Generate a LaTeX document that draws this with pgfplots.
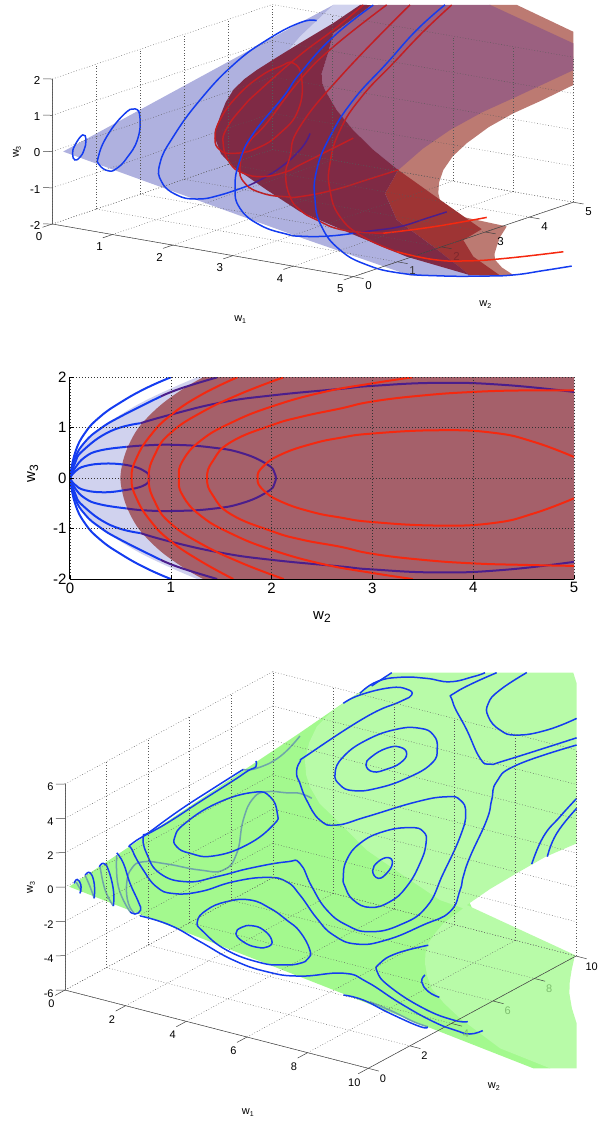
\documentclass[border=0pt]{standalone}
\usepackage{fontspec}
\setmainfont{Liberation Sans}
\usepackage{pgfplots}
\pgfplotsset{compat=1.18}
\definecolor{bluelt}{RGB}{208,210,238}
\definecolor{bluedk}{RGB}{175,177,223}
\definecolor{maroon}{RGB}{127,42,69}
\definecolor{mauve}{RGB}{155,96,128}
\definecolor{salmon}{RGB}{188,122,114}
\definecolor{brick}{RGB}{158,52,52}
\definecolor{midred}{RGB}{165,96,106}
\definecolor{wblue}{RGB}{20,60,240}
\definecolor{wpurple}{RGB}{75,30,140}
\definecolor{wred}{RGB}{245,40,15}
\definecolor{wreddk}{RGB}{195,30,35}
\definecolor{greendk}{RGB}{163,249,142}
\definecolor{greenlt}{RGB}{184,251,168}
\definecolor{wteal}{RGB}{110,165,170}
\definecolor{dimgreen}{RGB}{125,190,110}
\definecolor{dimred}{RGB}{125,40,45}
\pgfplotsset{
  base/.style={clip=false, axis on top, no markers, grid=major,
    grid style={dash pattern=on 0.8pt off 2pt, black!65, line width=0.4pt},
    axis line style={draw=none},
    tick style={draw=none}, tick align=outside,
    major tick length=9pt},
  patch/.style={fill=#1, draw=none, forget plot},
  crv/.style={draw=#1, line width=1.5pt, smooth, tension=0.8, forget plot},
  crvc/.style={draw=#1, line width=1.5pt, smooth cycle, tension=0.8, forget plot},
}
\begin{document}
\begin{tikzpicture}
\path[use as bounding box] (0,0) rectangle (600pt,-1122pt);

% top: both sheets
\begin{axis}[base, at={(52.3pt,-151.5pt)}, anchor=origin,
  x={(60.2pt,-10.54pt)}, y={(44pt,14.9pt)}, z={(0pt,36.25pt)},
  xmin=0, xmax=5, ymin=0, ymax=5, zmin=-2, zmax=2,
  xtick={0,...,5}, ytick={0,...,5}, ztick={-2,...,2},
  xticklabels={0,1,2,3,4,5},
  yticklabels={0,\textcolor{black!80}{1},\textcolor{dimred}{2},3,4,5},
  zticklabels={-2,-1,0,1,2},
  tick pos=left,
  tick label style={font=\fontsize{11.5}{12}\selectfont},
  xticklabel style={xshift=1pt, yshift=-1.5pt},
  zticklabel style={yshift=2pt},
  xlabel={w\raisebox{-2pt}{\scriptsize 1}}, ylabel={w\raisebox{-2pt}{\scriptsize 2}}, zlabel={w\raisebox{-2pt}{\scriptsize 3}},
  xlabel style={at={(axis cs:5.16,-2.79,-2)}, anchor=center, font=\fontsize{11}{11}\selectfont},
  ylabel style={at={(axis cs:7.36,-0.23,-2)}, anchor=center, rotate=0, font=\fontsize{11}{11}\selectfont},
  zlabel style={at={(axis cs:-0.37,-0.297,0)}, anchor=center, rotate=0, font=\fontsize{11}{11}\selectfont},
]
\addplot3[patch=bluedk] coordinates {(.18,0,.05) (2.5,2.209,3.37) (2.5,2.966,3.55) (2.5,3.725,3.24) (2.5,4.482,-.61) (2.5,6.073,-5.19) (2.5,4.709,-4.63) (2.5,2.209,-2.55)};
\addplot3[patch=bluelt] coordinates {(2.5,1.823,2.59) (2.5,2.209,2.99) (2.5,2.966,3.55) (2.5,3.725,3.24) (2.5,2.209,2.16)};
\addplot3[patch=salmon] coordinates {(2.5,6.527,2.09) (2.5,7.134,1.84) (2.5,8.42,.57) (2.5,8.42,-.90) (2.5,7.7,-1.03) (2.5,7.057,-1.12) (2.5,6.5,-1.27) (2.5,5.998,-1.51) (2.5,5.68,-1.74) (2.5,5.466,-2.03) (2.5,5.37,-2.33) (2.5,5.352,-2.62) (2.5,5.41,-2.95) (2.5,5.543,-3.26) (2.5,6.907,-4.18) (2.5,6.75,-4.42) (2.5,6.68,-4.64) (2.5,6.63,-4.82) (2.5,6.641,-4.99) (2.5,6.8,-5.27) (2.5,7.057,-5.58) (2.5,6.755,-5.47) (2.5,6.073,-5.18) (2.5,5.239,-4.05) (2.5,4.443,-1.61) (2.5,4.482,2.15)};
\addplot3[patch=mauve] coordinates {(2.5,3.839,3.19) (2.5,6.527,2.09) (2.5,8.42,.25) (2.5,8.42,-.49) (2.5,7.134,-.69) (2.5,6.35,-.8) (2.5,5.618,-.99) (2.5,5.0,-1.25) (2.5,4.443,-1.61) (2.5,3.875,-.82) (2.5,3.42,-.09) (2.5,3.043,.62) (2.5,2.777,1.28) (2.5,2.71,1.52) (2.5,2.702,1.77) (2.5,2.84,2.25) (2.5,2.966,2.77)};
\addplot3[patch=brick] coordinates {(2.5,4.443,-1.61) (2.5,5.391,-2.82) (2.5,6.339,-4.02) (2.5,5.92,-4.15) (2.5,6.148,-4.70) (2.5,6.755,-5.47) (2.5,6.073,-5.18) (2.5,5.239,-4.05) (2.5,4.407,-2.97) (2.5,4.141,-2.13)};
\addplot3[patch=maroon] coordinates {(2.5,.277,.98) (2.5,.31,1.26) (2.5,.391,1.53) (2.5,.52,1.87) (2.5,.693,2.14) (2.5,.93,2.33) (2.5,1.225,2.47) (2.5,1.7,2.64) (2.5,2.209,2.81) (2.5,2.966,3.05) (2.5,3.573,3.30) (2.5,3.839,3.19) (2.5,2.966,2.77) (2.5,2.84,2.25) (2.5,2.702,1.77) (2.5,2.71,1.52) (2.5,2.777,1.28) (2.5,3.043,.62) (2.5,3.42,-.09) (2.5,3.875,-.82) (2.5,4.443,-1.61) (2.5,4.141,-2.13) (2.5,4.407,-2.97) (2.5,5.239,-4.05) (2.5,6.073,-5.18) (2.5,4.634,-4.08) (2.5,3.345,-2.90) (2.5,2.209,-1.84) (2.5,1.452,-.93) (2.5,.693,.02) (2.5,.414,.49)};
% axis lines and ticks that show
\draw[black!75, line width=0.5pt] (axis cs:0,0,-2) -- (axis cs:5,0,-2) -- (axis cs:5,5,-2);
\draw[black!60, line width=0.9pt] (axis cs:0,0,-2) -- (axis cs:0,0,2);
\pgfplotsinvokeforeach{0,...,5}{
  \draw[black!75, line width=0.5pt] (axis cs:#1,0,-2) -- (axis cs:#1,-.22,-2);
  \draw[black!75, line width=0.5pt] (axis cs:5,#1,-2) -- (axis cs:5.17,#1,-2);
}
\pgfplotsinvokeforeach{-2,...,2}{
  \draw[black!75, line width=0.5pt] (axis cs:0,0,#1) -- (axis cs:-.1,-.07,#1);
}
% blue levels
\addplot3[crvc=wblue] coordinates {(.3,.105,-.19) (.3,.05,0) (.3,.105,.22) (.3,.28,.43) (.3,.355,.26) (.3,.31,0) (.3,.218,-.16)};
\addplot3[crvc=wblue] coordinates {(.7,.316,-.46) (.7,.111,-.21) (.7,.089,.02) (.7,.28,.50) (.7,.657,.94) (.7,.923,1.00) (.7,1.036,.69) (.7,.975,.12) (.7,.734,-.28) (.7,.507,-.47)};
\addplot3[crv=wblue] coordinates {(1.5,3.955,2.42) (1.5,3.577,2.52) (1.5,2.82,2.35) (1.5,2.061,1.98) (1.5,1.305,1.32) (1.5,.698,.56) (1.5,.395,-.05) (1.5,.434,-.58) (1.5,.775,-1.08) (1.5,1.23,-1.38) (1.5,1.759,-1.49) (1.5,2.441,-1.49)};
\addplot3[crv=wpurple] coordinates {(1.5,2.441,-1.49) (1.5,3.048,-1.33) (1.5,3.577,-.99) (1.5,3.805,-.63)};
\addplot3[crvc=wreddk] coordinates {(2.5,.277,.98) (2.5,.391,1.44) (2.5,.77,1.92) (2.5,1.3,2.26) (2.5,1.755,2.35) (2.5,2.057,2.32) (2.5,2.248,1.82) (2.5,2.17,.98) (2.5,1.755,.51) (2.5,1.225,.31) (2.5,.693,.39) (2.5,.391,.61)};
\addplot3[crv=wreddk] coordinates {(2.5,3.648,3.27) (2.5,2.966,2.86) (2.5,2.209,2.48) (2.5,1.3,1.89) (2.5,.92,1.59) (2.5,.543,1.14) (2.5,.466,.72) (2.5,.618,.15) (2.5,.92,-.25) (2.5,1.375,-.53) (2.5,1.907,-.61) (2.5,2.209,-.55) (2.5,2.966,-.40) (2.5,3.42,-.31)};
\addplot3[crv=wreddk] coordinates {(3,3.495,3.48) (3,2.282,2.82) (3,1.525,2.22) (3,.768,1.34) (3,.35,.95) (3,.161,.39) (3,.275,-.12) (3,.691,-.57) (3,1.223,-.88) (3,1.525,-1.00) (3,2.282,-1.13) (3,3.041,-1.16) (3,3.759,-1.18)};
\addplot3[crv=wblue] coordinates {(3,3.191,3.60) (3,2.282,3.10) (3,1.525,2.40) (3,1.145,1.91) (3,.464,1.18) (3,.161,.57) (3,.048,-.12) (3,.161,-.76) (3,.616,-1.41) (3,1.223,-1.91) (3,1.525,-2.09) (3,2.132,-2.34) (3,2.736,-2.51)};
\addplot3[crv=wpurple] coordinates {(3,2.736,-2.51) (3,3.191,-2.62) (3,3.798,-2.76) (3,4.405,-2.78) (3,4.859,-2.79)};
\addplot3[crv=wreddk] coordinates {(3.5,3.341,3.69) (3.5,1.825,2.42) (3.5,.841,1.36) (3.5,.614,.62) (3.5,.516,.16) (3.5,.614,-.48) (3.5,.841,-.94) (3.5,1.22,-1.37) (3.5,1.825,-1.90) (3.5,2.734,-2.36)};
\addplot3[crv=wred] coordinates {(3.5,2.734,-2.36) (3.5,3.87,-2.65) (3.5,5.084,-2.89)};
\addplot3[crv=wreddk] coordinates {(4.5,2.92,4.15) (4.5,2.275,3.68) (4.5,1.593,3.09) (4.5,.875,2.46) (4.5,.382,1.74) (4.5,.155,.92) (4.5,.155,.18) (4.5,.382,-.65) (4.5,.911,-1.42) (4.5,1.67,-2.14)};
\addplot3[crv=wred] coordinates {(4.5,1.67,-2.14) (4.5,2.502,-2.70) (4.5,3.261,-3.05) (4.5,4.17,-3.35) (4.5,5.457,-3.70)};
\addplot3[crv=wblue] coordinates {(4,3.452,3.79) (4,2.809,3.36) (4,2.127,2.72) (4,1.368,2.02) (4,.839,1.23) (4,.536,.43) (4,.498,-.38) (4,.65,-1.18) (4,1.066,-1.99) (4,1.673,-2.65) (4,2.43,-3.19) (4,3.339,-3.64) (4,4.323,-4.05) (4,5.005,-4.30) (4,5.686,-4.46) (4,6.332,-4.60)};
\end{axis}

% middle: projection on w2, w3
\begin{axis}[base, at={(70pt,-579pt)}, anchor=south west, scale only axis,
  width=504pt, height=201.7pt,
  xmin=0, xmax=5, ymin=-2, ymax=2, xtick={0,...,5}, ytick={-2,...,2},
  yticklabels={-2,-1,0,1,2}, xticklabels={0,1,2,3,4,5},
  axis x line*=bottom, axis y line*=left, clip=true,
  axis line style={draw=black, line width=1pt, -}, tick style={draw=black, line width=0.6pt},
  tick align=inside, major tick length=4pt,
  grid style={dash pattern=on 1pt off 2pt, black!80, line width=0.5pt},
  tick label style={font=\fontsize{15}{16}\selectfont},
  xlabel={w\raisebox{-3pt}{\fontsize{12}{12}\selectfont 2}}, ylabel={w\raisebox{-3pt}{\fontsize{12}{12}\selectfont 3}},
  xlabel style={at={(axis cs:2.5,-2.75)}, anchor=center, font=\fontsize{15}{15}\selectfont},
  ylabel style={at={(axis cs:-.37,.09)}, anchor=center, font=\fontsize{15}{15}\selectfont},
]
\addplot[patch=bluelt, smooth cycle, tension=0.5] coordinates {(2,2.55) (1.26,2) (.71,1.5) (.315,1) (.08,.5) (0,0) (.08,-.5) (.315,-1) (.71,-1.5) (1.26,-2) (2,-2.55) (5.6,-2.6) (5.6,2.6)};
\addplot[patch=midred, smooth cycle, tension=0.5] coordinates {(2,2.6) (1.32,2) (.93,1.5) (.68,1) (.55,.5) (.5,0) (.55,-.5) (.68,-1) (.93,-1.5) (1.32,-2) (2,-2.6) (5.6,-2.6) (5.6,2.6)};
\pgfplotsset{mb/.style={draw=wblue, line width=2pt, smooth, tension=0.8, forget plot},
  mp/.style={draw=wpurple, line width=2pt, smooth, tension=0.8, forget plot},
  mr/.style={draw=wred, line width=2pt, smooth, tension=0.8, forget plot}}
\addplot[mb] coordinates {(0,0) (.05,.13) (.15,.24) (.35,.29) (.53,.27)};
\addplot[mb] coordinates {(0,0) (.05,-.13) (.15,-.24) (.35,-.28) (.53,-.24)};
\addplot[mp] coordinates {(.53,.27) (.65,.22) (.75,.127) (.785,.04) (.785,-.04) (.75,-.127) (.65,-.2) (.53,-.24)};
\addplot[mb] coordinates {(0,0) (.05,.2) (.15,.42) (.3,.55) (.56,.62)};
\addplot[mb] coordinates {(0,0) (.05,-.2) (.15,-.4) (.3,-.52) (.56,-.6)};
\addplot[mp] coordinates {(.56,.62) (.75,.65) (1.05,.66) (1.4,.61) (1.7,.5) (1.95,.28) (2.03,.1) (2.03,-.1) (1.95,-.28) (1.7,-.5) (1.4,-.61) (1.05,-.65) (.75,-.64) (.56,-.6)};
\addplot[mb] coordinates {(0,0) (.05,.3) (.13,.55) (.4,.93) (.7,1.09)};
\addplot[mb] coordinates {(0,0) (.05,-.3) (.13,-.55) (.4,-.93) (.7,-1.09)};
\addplot[mp] coordinates {(.7,1.09) (1,1.26) (1.5,1.5) (2,1.64) (2.68,1.77) (3,1.83) (3.65,1.89) (4.3,1.85) (5,1.71)};
\addplot[mp] coordinates {(.7,-1.09) (1,-1.26) (1.5,-1.48) (2,-1.62) (2.68,-1.75) (3,-1.81) (3.65,-1.87) (4.3,-1.82) (5,-1.66)};
\addplot[mb] coordinates {(0,0) (.05,.4) (.15,.72) (.3,.98) (.5,1.22) (.9,1.62)};
\addplot[mb] coordinates {(0,0) (.05,-.4) (.15,-.72) (.3,-.98) (.5,-1.22) (.9,-1.62)};
\addplot[mp] coordinates {(.9,1.62) (1.1,1.78) (1.46,2)};
\addplot[mp] coordinates {(.9,-1.62) (1.1,-1.78) (1.46,-2)};
\addplot[mb] coordinates {(0,0) (.05,.5) (.15,.9) (.3,1.22) (.5,1.5) (.75,1.78) (1,2)};
\addplot[mb] coordinates {(0,0) (.05,-.5) (.15,-.9) (.3,-1.22) (.5,-1.5) (.75,-1.78) (1,-2)};
\addplot[mr] coordinates {(1.66,2) (1.3,1.65) (1,1.25) (.8,.85) (.66,.4) (.61,0) (.66,-.4) (.8,-.85) (1,-1.25) (1.3,-1.65) (1.62,-2)};
\addplot[mr] coordinates {(2.12,2) (1.7,1.68) (1.3,1.3) (1,.9) (.85,.5) (.78,0) (.85,-.5) (1,-.9) (1.3,-1.3) (1.7,-1.68) (2.12,-2)};
\addplot[mr] coordinates {(3.4,2) (3,1.88) (2.5,1.7) (2,1.42) (1.6,1.1) (1.3,.75) (1.12,.35) (1.08,0) (1.12,-.35) (1.3,-.75) (1.6,-1.1) (2,-1.42) (2.5,-1.7) (3,-1.88) (3.4,-2)};
\addplot[mr] coordinates {(5,1.74) (4.5,1.74) (4,1.71) (3.5,1.64) (3,1.52) (2.68,1.38) (2.3,1.22) (2,1.05) (1.6,.72) (1.42,.35) (1.36,0) (1.42,-.35) (1.6,-.72) (2,-1.05) (2.3,-1.22) (2.68,-1.36) (3,-1.5) (3.5,-1.62) (4,-1.69) (4.5,-1.72) (5,-1.74)};
\addplot[mr] coordinates {(5,.42) (4.6,.72) (4.2,.9) (3.65,.95) (3,.885) (2.68,.8) (2.4,.68) (2.1,.475) (1.92,.24) (1.86,0) (1.92,-.24) (2.1,-.47) (2.4,-.67) (2.68,-.78) (3,-.87) (3.65,-.94) (4.2,-.89) (4.6,-.7) (5,-.4)};
\end{axis}

% bottom: the green sheet
\begin{axis}[base, at={(65pt,-887pt)}, anchor=origin,
  x={(30.33pt,-7.83pt)}, y={(20.77pt,11.23pt)}, z={(0pt,17.17pt)},
  xmin=0, xmax=10, ymin=0, ymax=10, zmin=-6, zmax=6,
  xtick={0,2,...,10}, ytick={0,2,...,10}, ztick={-6,-4,...,6},
  xticklabels={0,2,4,6,8,10},
  yticklabels={0,2,\textcolor{dimgreen}{4},\textcolor{dimgreen}{6},\textcolor{dimgreen}{8},10},
  zticklabels={-6,-4,-2,0,2,4,6},
  tick pos=left,
  tick label style={font=\fontsize{11}{12}\selectfont},
  xticklabel style={xshift=-1pt, yshift=-1.5pt},
  zticklabel style={yshift=2pt},
  xlabel={w\raisebox{-2pt}{\scriptsize 1}}, ylabel={w\raisebox{-2pt}{\scriptsize 2}}, zlabel={w\raisebox{-2pt}{\scriptsize 3}},
  xlabel style={at={(axis cs:9.16,-4.57,-6)}, anchor=center, font=\fontsize{11}{11}\selectfont},
  ylabel style={at={(axis cs:13.57,.83,-6)}, anchor=center, rotate=0, font=\fontsize{11}{11}\selectfont},
  zlabel style={at={(axis cs:-.72,-.59,0)}, anchor=center, rotate=0, font=\fontsize{11}{11}\selectfont},
]
\addplot3[patch=greendk] coordinates {(.14,0,.08) (6,2.55,10.05) (6,4.96,10.48) (6,5.76,10.54) (6,7.37,5.32) (10,8.75,-11.72) (10,7.94,-11.19) (6,2.55,-4.16)};
\addplot3[patch=greenlt] coordinates {(6,4.96,10.48) (6,6.97,10.66) (10,9.87,10.59) (10,10.03,9.86) (10,10.03,.54) (10,8.51,.74) (10,7.14,.69) (10,5.86,.61) (10,4.74,.41) (10,9.95,-5.91) (10,9.79,-6.68) (10,9.7,-7.3) (10,9.68,-7.96) (10,9.8,-8.9) (10,10.03,-9.94) (10,10.03,-12.56) (10,8.75,-11.72) (10,6.34,-8.98) (10,4.42,-5.98) (10,3.65,-4.6) (10,3.05,-3.34) (10,2.83,-2.45) (10,2.73,-1.67) (10,2.75,-1.12) (10,2.89,-.61) (10,3.2,-.25) (10,3.61,.08) (10,4.57,.33) (6,9.29,-4.10) (6,7.37,-1.28) (6,5.76,1.12) (6,4.16,4.11) (6,3.5,5.3) (6,3.03,6.59) (6,2.85,7.4) (6,2.79,8.31) (6,3.0,9.2) (6,3.36,9.88) (6,4.0,10.25)};
\draw[black!75, line width=0.5pt] (axis cs:0,0,-6) -- (axis cs:10,0,-6) -- (axis cs:10,10,-6);
\draw[black!60, line width=0.9pt] (axis cs:0,0,-6) -- (axis cs:0,0,6);
\pgfplotsinvokeforeach{0,2,...,10}{
  \draw[black!75, line width=0.5pt] (axis cs:#1,0,-6) -- (axis cs:#1,-.48,-6);
  \draw[black!75, line width=0.5pt] (axis cs:10,#1,-6) -- (axis cs:10.35,#1,-6);
}
\pgfplotsinvokeforeach{-6,-4,...,6}{
  \draw[black!75, line width=0.5pt] (axis cs:0,0,#1) -- (axis cs:-.2,-.15,#1);
}
% seen through the sheet
\addplot3[crv=wteal] coordinates {(3,7.50,1.63) (3,6.93,2.29) (3,6.29,2.74) (3,5.33,3.43) (3,4.68,3.47) (3,4.20,2.52) (3,3.89,.79) (3,3.24,.24) (3,2.12,.97) (3,.52,2.37) (1.5,1.58,1.12) (1.5,1.02,1.10) (1.5,.78,.38) (1.5,.86,-.83) (1.5,1.18,-1.66)};
\addplot3[crv=wteal] coordinates {(3,6.93,5.63) (3,5.97,5.06) (3,4.85,5.11) (3,4.20,5.47)};
\addplot3[crv=wteal] coordinates {(.3,.37,-.38) (.3,.09,.38)};
\addplot3[crv=wteal] coordinates {(.6,.53,-.73) (.6,.33,.08) (.6,.09,.91)};
\addplot3[crv=wteal] coordinates {(1,.87,-1.22) (1,.47,-.02) (1,.23,1.49)};
\addplot3[crv=wteal] coordinates {(1.5,.94,-1.37) (1.5,.38,.45) (1.5,.30,2.35)};
\addplot3[crv=wteal] coordinates {(6,8.70,-11.09) (6,8.01,-10.34) (6,7.04,-9.13) (6,5.92,-7.82)};
% level curves
\addplot3[crv=wblue] coordinates {(.3,.28,-.42) (.3,.33,.03) (.3,.15,.48) (.3,0,.35)};
\addplot3[crv=wblue] coordinates {(.6,.53,-.73) (.6,.53,.14) (.6,.33,.89) (.6,.10,.91)};
\addplot3[crv=wblue] coordinates {(1,.87,-1.22) (1,.87,-.29) (1,.63,1.04) (1,.39,1.58) (1,.19,1.51)};
\addplot3[crv=wblue] coordinates {(1.5,.30,2.48) (1.5,.62,1.66) (1.5,.94,.29) (1.5,1.34,-1.05) (1.5,1.45,-1.61) (1.5,1.18,-1.66) (1.5,.94,-1.37)};
\addplot3[crv=wblue] coordinates {(2,.69,-1.22) (2,2.13,-2.70) (2,3.58,-4.61) (2,5.18,-6.73) (2,6.79,-8.46) (6,2.55,-4.12) (6,4.64,-5.32) (6,5.76,-6.55) (6,7.37,-8.85) (6,8.97,-10.97) (6,10.10,-12.24) (6,10.74,-12.85) (6,11.35,-13.05)};
\addplot3[crv=wblue] coordinates {(3,4.81,5.56) (3,4.81,5.22) (3,4.44,5.24) (3,3.72,5.13) (3,2.12,4.95) (3,.52,4.74) (1.5,1.10,2.55) (1.5,1.05,2.15) (1.5,1.58,.64) (1.5,2.22,-.76) (1.5,3.02,-1.67) (3,2.12,-.29) (3,3.72,-.76) (3,5.33,-1.56) (3,6.29,-2.44) (3,6.93,-3.63) (6,3.36,-1.28) (6,4.16,-2.78) (6,5.28,-4.04) (10,.89,.90) (10,2.65,.62) (10,3.93,.55) (10,4.42,1.50) (10,4.57,2.17) (10,4.90,3.12) (10,5.70,4.73) (10,5.94,5.74) (10,6.18,6.65) (10,7.14,6.99) (10,10.03,6.27)};
\addplot3[crv=wblue] coordinates {(3,4.20,5.47) (3,2.76,5.31) (3,1.16,5.10) (1.5,1.90,2.66) (1.5,1.58,2.58) (1.5,1.74,1.50) (1.5,2.38,-.08) (1.5,3.67,-1.41) (3,2.92,.06) (3,4.53,-.50) (3,6.29,-1.28) (3,6.93,-1.79) (6,3.12,.72) (6,3.84,-1.11) (6,4.80,-2.62) (6,5.92,-3.74) (6,7.37,-4.29) (6,8.65,-4.07) (10,3.61,2.99) (10,4.42,4.60) (10,4.69,5.78) (10,4.42,6.74) (10,3.77,7.35) (10,2.33,8.00) (6,5.76,3.06) (6,4.32,3.52) (6,3.51,4.34) (6,2.87,5.92) (6,2.55,7.11) (6,2.39,7.79) (6,2.55,8.36) (6,3.03,8.54) (6,5.76,8.89) (6,7.37,8.71) (6,7.93,8.74) (6,7.69,9.23) (6,6.88,9.84) (6,5.44,10.36) (6,4.64,10.40)};
\addplot3[crvc=wblue] coordinates {(3,.91,3.70) (3,1.40,4.16) (3,2.92,4.33) (3,4.68,3.82) (3,5.49,3.04) (3,5.84,1.84) (3,5.65,1.29) (3,4.37,.96) (3,2.76,1.37) (3,1.64,2.26) (3,1.00,3.06)};
\addplot3[crvc=wblue] coordinates {(3,1.99,-1.95) (3,2.44,-1.57) (3,3.40,-1.71) (3,4.53,-2.35) (3,5.49,-3.46) (3,6.29,-4.67) (3,6.93,-5.77) (3,7.41,-7.15) (3,7.33,-7.58) (3,6.93,-7.61) (3,6.13,-7.18) (3,5.01,-6.31) (3,3.40,-4.53) (3,2.28,-2.73)};
\addplot3[crvc=wblue] coordinates {(3,3.85,-3.85) (3,4.13,-3.68) (3,4.61,-3.90) (3,5.17,-4.51) (3,5.57,-5.36) (3,5.41,-5.64) (3,4.85,-5.31) (3,4.20,-4.57)};
\addplot3[crvc=wblue] coordinates {(6,4.24,6.59) (6,4.64,7.29) (6,5.76,7.53) (6,7.21,7.21) (6,8.33,6.53) (6,8.97,5.73) (6,9.16,4.82) (6,8.89,4.12) (6,7.69,4.04) (6,6.24,4.40) (6,5.12,5.00) (6,4.48,5.75)};
\addplot3[crvc=wblue] coordinates {(6,5.73,6.10) (6,6.00,6.40) (6,6.73,6.42) (6,7.37,6.06) (6,7.69,5.46) (6,7.37,5.13) (6,6.73,5.20) (6,6.08,5.47)};
\addplot3[crvc=wblue] coordinates {(6,4.64,.30) (6,4.80,1.17) (6,5.44,1.72) (6,6.56,1.67) (6,7.85,1.06) (6,8.49,.41) (6,8.62,-.36) (6,8.33,-1.33) (6,7.69,-2.27) (6,6.88,-2.62) (6,5.92,-2.32) (6,5.12,-1.37) (6,4.72,-.33)};
\addplot3[crvc=wblue] coordinates {(6,6.05,-.27) (6,6.32,.08) (6,6.80,0) (6,7.00,-.46) (6,6.73,-.86) (6,6.32,-.89)};
\addplot3[crv=wblue] coordinates {(6,5.44,10.46) (6,6.24,10.61) (6,7.37,10.13) (6,8.65,9.23) (6,9.77,8.30) (6,10.90,7.86) (6,11.46,7.72)};
\addplot3[crv=wblue] coordinates {(6,6.00,10.52) (6,6.97,10.66)};
\addplot3[crv=wblue] coordinates {(10,6.18,13.00) (10,4.26,13.15) (10,4.06,12.70) (10,4.74,10.61) (10,5.38,8.54) (10,5.86,7.89) (10,6.66,7.60) (10,10.03,6.69)};
\addplot3[crv=wblue] coordinates {(10,7.63,12.06) (10,6.34,11.89) (10,5.78,11.48) (10,5.78,10.70) (10,6.34,9.56) (10,7.14,8.74) (10,8.59,8.08) (10,10.03,7.82)};
\addplot3[crv=wblue] coordinates {(10,7.87,.75) (10,8.43,1.98) (10,9.23,2.62) (10,10.03,3.16)};
\addplot3[crv=wblue] coordinates {(10,8.62,.69) (10,9.07,1.75) (10,10.03,2.58)};
\addplot3[crv=wblue] coordinates {(10,2.89,-.72) (10,1.37,-.20) (10,.56,-.25) (10,.43,-.66) (10,1.04,-1.93) (10,2.65,-4.23) (10,4.09,-5.86) (10,4.79,-6.41)};
\addplot3[crv=wblue] coordinates {(10,2.73,-2.35) (10,2.57,-2.64) (10,2.89,-3.42) (10,3.42,-4.10)};
\addplot3[crv=wblue] coordinates {(6,4.64,-6.59) (6,5.60,-7.51) (6,6.88,-9.12) (6,8.33,-10.84) (6,8.70,-11.09)};
\end{axis}
\end{tikzpicture}
\end{document}
